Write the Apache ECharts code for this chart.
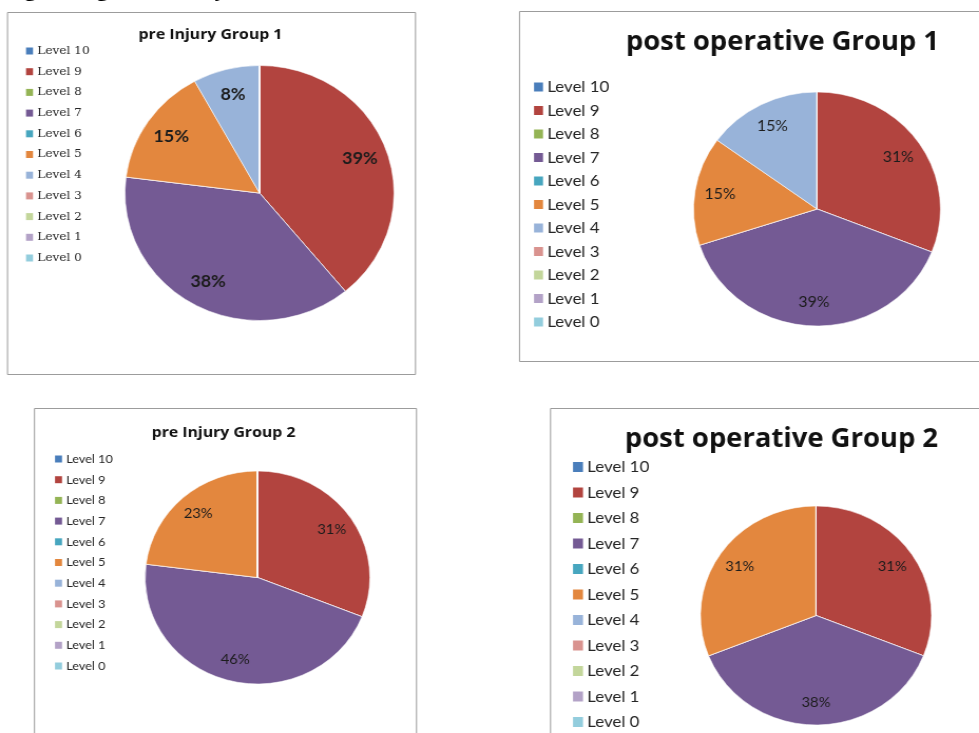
<!DOCTYPE html>
<html>
<head>
<meta charset="utf-8">
<script src="https://cdn.jsdelivr.net/npm/echarts@6/dist/echarts.min.js"></script>
<style>
  html, body { margin: 0; padding: 0; background: #fff; overflow: hidden; }
  #wrap { width: 979px; height: 733px; overflow: hidden; position: relative; }
  /* the whole figure is slightly widened horizontally */
  #chart { width: 928px; height: 733px; transform: scaleX(1.055); transform-origin: 0 0; }
</style>
</head>
<body>
<div id="wrap"><div id="chart"></div></div>
<script>
// Tegner activity levels, in legend / slice order
const levels = ['Level 10', 'Level 9', 'Level 8', 'Level 7', 'Level 6', 'Level 5',
                'Level 4', 'Level 3', 'Level 2', 'Level 1', 'Level 0'];
const levelColors = ['#4A7EBB', '#B2443F', '#94B455', '#745A94', '#47A6BF', '#E3873E',
                     '#98B3D9', '#D9938F', '#C3D69B', '#B3A2C7', '#93CDDD'];

// share of patients (%) per level
const preInjury1 = [0, 39, 0, 38, 0, 15, 8, 0, 0, 0, 0];
const postOp1    = [0, 31, 0, 39, 0, 15, 15, 0, 0, 0, 0];
const preInjury2 = [0, 31, 0, 46, 0, 23, 0, 0, 0, 0, 0];
const postOp2    = [0, 31, 0, 38, 0, 31, 0, 0, 0, 0, 0];

const titles = ['pre Injury Group 1', 'post operative Group 1',
                'pre Injury Group 2', 'post operative Group 2'];
const caption = 'Fig. 6: Tegner Activity Score, evaluated.';

const SX = 1.055;               // horizontal stretch of the figure
const px = x => x / SX;         // page x -> unstretched canvas x

const panels = [
  { values: preInjury1, title: titles[0],
    box: [7.5, 12.5, 408, 362], titleAt: [210.5, 35], titleSize: 15,
    legend: { left: 26, top: 44, font: 'DejaVu Serif', size: 11.5, lh: 14, gap: 6.7, icon: 7 },
    pie: [259.5, 193, 127.5], label: { size: 17, weight: 'bold' } },
  { values: postOp1, title: titles[1],
    box: [519.5, 11.5, 500, 350], titleAt: [782.5, 43], titleSize: 26,
    legend: { left: 534, top: 78, font: 'Lato', size: 16, lh: 18, gap: 5.5, icon: 9 },
    pie: [817, 209, 117], label: { size: 15, weight: 'normal' } },
  { values: preInjury2, title: titles[2],
    box: [34.5, 408.5, 382, 400], titleAt: [223.5, 433], titleSize: 15,
    legend: { left: 55, top: 452, font: 'Lato', size: 12, lh: 14, gap: 6.7, icon: 7 },
    pie: [257.5, 577.5, 106.5], label: { size: 14, weight: 'normal' } },
  { values: postOp2, title: titles[3],
    box: [550.5, 408.5, 500, 400], titleAt: [781.5, 440], titleSize: 26,
    legend: { left: 573, top: 458, font: 'Lato', size: 16, lh: 18, gap: 7.5, icon: 10 },
    pie: [816, 615.5, 109.5], label: { size: 14, weight: 'normal' } }
];

const chart = echarts.init(document.getElementById('chart'), null, { renderer: 'canvas' });

const graphic = [{
  type: 'text', x: px(4), y: -21, silent: true,
  style: { text: caption, font: 'bold 22px "Liberation Serif"', fill: '#000' }
}];
const legend = [];
const series = [];

panels.forEach((p, i) => {
  const [bx, by, bw, bh] = p.box;
  graphic.push({
    type: 'rect', silent: true,
    shape: { x: px(bx), y: by, width: px(bw), height: bh },
    style: { fill: '#fff', stroke: '#9c9c9c', lineWidth: 1 }
  });
  graphic.push({
    type: 'text', silent: true, x: px(p.titleAt[0]), y: p.titleAt[1],
    style: {
      text: p.title, fill: '#111', align: 'center', verticalAlign: 'middle',
      font: 'bold ' + p.titleSize + 'px "Open Sans"'
    }
  });

  legend.push({
    orient: 'vertical', left: px(p.legend.left), top: p.legend.top, padding: 0,
    data: levels, selectedMode: false, icon: 'rect',
    itemWidth: p.legend.icon / SX, itemHeight: p.legend.icon, itemGap: p.legend.gap,
    itemStyle: { borderWidth: 0 },
    textStyle: { fontFamily: p.legend.font, fontSize: p.legend.size,
                 lineHeight: p.legend.lh, color: '#262626', padding: [0, 0, 0, -1] }
  });

  const data = levels.map((name, j) => ({
    name, value: p.values[j], itemStyle: { color: levelColors[j] }
  }));
  const [cx, cy, r] = p.pie;

  series.push({
    type: 'pie', center: [px(cx), cy], radius: r, startAngle: 90, clockwise: true,
    data, silent: true, animation: false,
    label: { show: false }, labelLine: { show: false },
    itemStyle: { borderColor: 'rgba(255,255,255,0.7)', borderWidth: 0.8 },
    emphasis: { disabled: true }
  });
});

// percentage labels, placed in an outer ring over each pie
panels.forEach((p, i) => {
  const [cx, cy, r] = p.pie;
  series.push({
    type: 'pie', center: [px(cx), cy], radius: [r * 0.54, r], startAngle: 90, clockwise: true,
    silent: true, animation: false, emphasis: { disabled: true },
    data: levels.map((name, j) => ({ name: name + ' %', value: p.values[j] })),
    itemStyle: { color: 'rgba(0,0,0,0)', borderWidth: 0 },
    labelLine: { show: false },
    label: {
      show: true, position: 'inside',
      formatter: d => (d.value ? d.value + '%' : ''),
      fontFamily: 'Lato', fontSize: p.label.size, fontWeight: p.label.weight, color: '#1c1c1c'
    }
  });
});

chart.setOption({
  animation: false,
  backgroundColor: '#fff',
  graphic,
  legend,
  series
});
</script>
</body>
</html>
